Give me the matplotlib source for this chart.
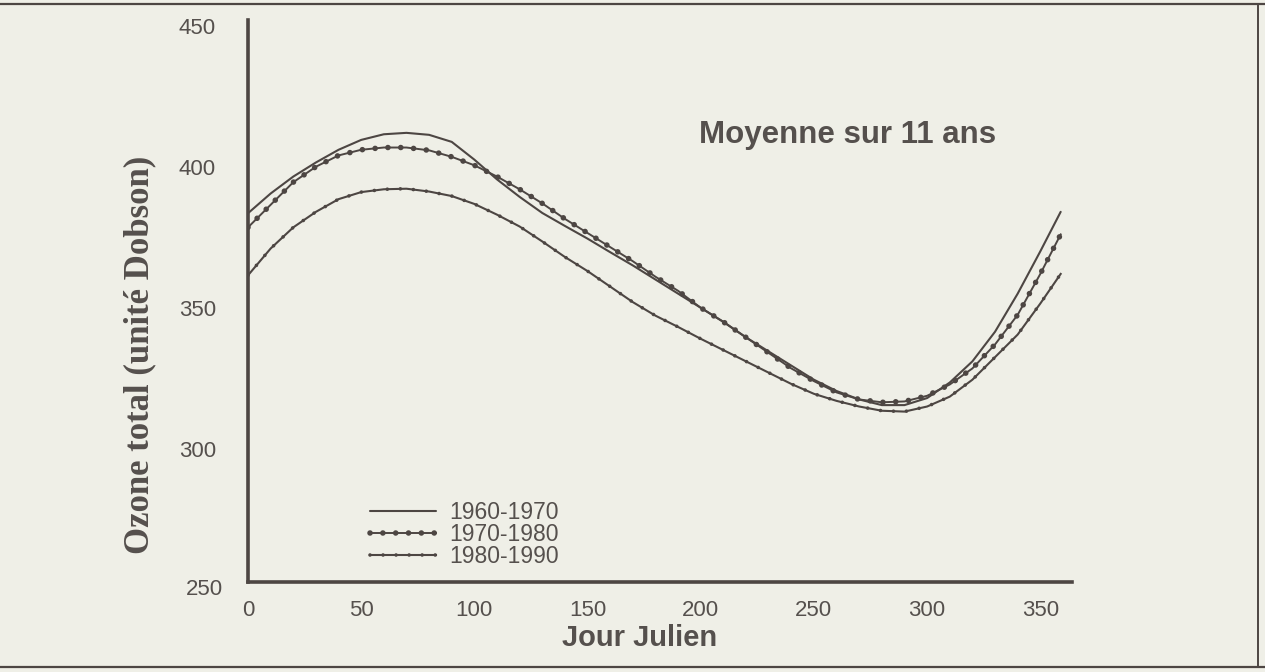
import matplotlib
matplotlib.use("Agg")
import matplotlib.pyplot as plt
from matplotlib.lines import Line2D
from matplotlib.legend_handler import HandlerTuple

# ---------------- data ----------------
days = [0, 10, 20, 30, 40, 50, 60, 70, 80, 90, 100, 110, 120, 130, 140, 150,
        160, 170, 180, 190, 200, 210, 220, 230, 240, 250, 260, 270, 280, 290,
        300, 310, 320, 330, 340, 350, 359]

ozone_1960_1970 = [383.5, 390.5, 396.5, 401.5, 406.0, 409.5, 411.5, 412.0, 411.3,
                   408.8, 402.5, 395.5, 389.3, 383.6, 379.0, 374.5, 369.7, 365.0,
                   360.0, 355.0, 350.0, 345.0, 339.5, 334.5, 329.5, 324.5, 320.5,
                   317.5, 315.5, 315.5, 318.0, 323.5, 331.0, 341.5, 355.0, 370.0, 384.0]

ozone_1970_1980 = [378.5, 386.5, 394.5, 400.0, 404.0, 406.0, 406.8, 406.8, 405.8,
                   403.5, 400.5, 396.5, 392.0, 387.0, 381.5, 376.5, 371.5, 366.5,
                   361.0, 356.0, 350.0, 345.0, 339.5, 334.0, 328.5, 324.0, 320.0,
                   317.5, 316.5, 316.8, 318.8, 322.8, 328.5, 337.0, 347.5, 362.0, 376.0]

ozone_1980_1990 = [361.5, 371.0, 378.5, 384.0, 388.5, 391.0, 392.0, 392.2, 391.2,
                   389.6, 386.8, 383.0, 378.8, 373.5, 368.0, 363.0, 357.5, 352.0,
                   347.2, 343.2, 339.0, 335.0, 331.0, 327.0, 323.0, 319.5, 317.0,
                   315.0, 313.5, 313.2, 315.0, 318.5, 324.5, 332.5, 340.5, 351.5, 362.0]

series_labels = ["1960-1970", "1970-1980", "1980-1990"]
x_ticks = [0, 50, 100, 150, 200, 250, 300, 350]
y_ticks = [300, 350, 400, 450]
title_text = "Moyenne sur 11 ans"
x_label = "Jour Julien"
y_label = "Ozone total (unité Dobson)"

# ---------------- style ----------------
bg = "#efefe7"
ink = "#4d4643"
txt = "#55504d"
sans = ["Liberation Sans", "DejaVu Sans"]

fig = plt.figure(figsize=(12.65, 6.72), dpi=100, facecolor=bg)
ax = fig.add_axes([248 / 1265, 1 - 582 / 672, 824 / 1265, 562 / 672])
ax.set_facecolor(bg)

# 1960-1970 : plain thin line
l1, = ax.plot(days, ozone_1960_1970, color=ink, lw=1.5, solid_capstyle="round")

# 1970-1980 : line with dense round dots
l2a, = ax.plot(days, ozone_1970_1980, color=ink, lw=1.4)
l2b, = ax.plot(days, ozone_1970_1980, color=ink, lw=4.0,
               linestyle=(0, (0.01, 2.3)), dash_capstyle="round")

# 1980-1990 : line with small dots
l3a, = ax.plot(days, ozone_1980_1990, color=ink, lw=1.5)
l3b, = ax.plot(days, ozone_1980_1990, color=ink, lw=2.6,
               linestyle=(0, (0.01, 3.6)), dash_capstyle="round")

ax.set_xlim(0, 364)
ax.set_ylim(252.8, 452)

ax.set_xticks(x_ticks)
ax.set_yticks(y_ticks)
ax.tick_params(length=0, labelsize=16, labelcolor=txt)
ax.tick_params(axis="y", pad=23)
ax.tick_params(axis="x", pad=13)
for lab in ax.get_xticklabels() + ax.get_yticklabels():
    lab.set_fontfamily(sans)

# the 250 label sits just below the x axis
ax.text(-25 / 824, 250, "250", transform=ax.get_yaxis_transform(),
        ha="right", va="center", fontsize=16, color=txt,
        family=sans, clip_on=False)

for s in ["top", "right"]:
    ax.spines[s].set_visible(False)
for s in ["left", "bottom"]:
    ax.spines[s].set_linewidth(2.6)
    ax.spines[s].set_color(ink)

leg = ax.legend([(l1,), (l2a, l2b), (l3a, l3b)], series_labels,
                handler_map={tuple: HandlerTuple(ndivide=1)},
                loc="lower left", bbox_to_anchor=(0.148, 0.025),
                frameon=False, handlelength=2.9,
                handletextpad=0.55, labelspacing=-0.05, borderpad=0,
                borderaxespad=0, prop={"family": sans, "size": 16.5})
for t in leg.get_texts():
    t.set_color(txt)

fig.text(848 / 1265, 1 - 135 / 672, title_text, ha="center", va="center",
         fontsize=22.5, fontweight="bold", color=txt, family=sans)
fig.text(640 / 1265, 1 - 638 / 672, x_label, ha="center", va="center",
         fontsize=21, fontweight="bold", color=txt, family=sans)
fig.text(140 / 1265, 1 - 355 / 672, y_label, ha="center", va="center",
         rotation=90, fontsize=25, fontweight="bold", color=txt,
         family=["Liberation Serif", "DejaVu Serif"])

# outer frame of the scanned figure
fig.add_artist(Line2D([0, 1], [1 - 4 / 672, 1 - 4 / 672], transform=fig.transFigure,
                      color=ink, lw=1.6))
fig.add_artist(Line2D([0, 1], [1 - 667 / 672, 1 - 667 / 672], transform=fig.transFigure,
                      color=ink, lw=1.6))
fig.add_artist(Line2D([1258 / 1265, 1258 / 1265], [1 - 667 / 672, 1 - 4 / 672],
                      transform=fig.transFigure, color=ink, lw=1.4))

fig.savefig("out.png", dpi=100, facecolor=bg)
